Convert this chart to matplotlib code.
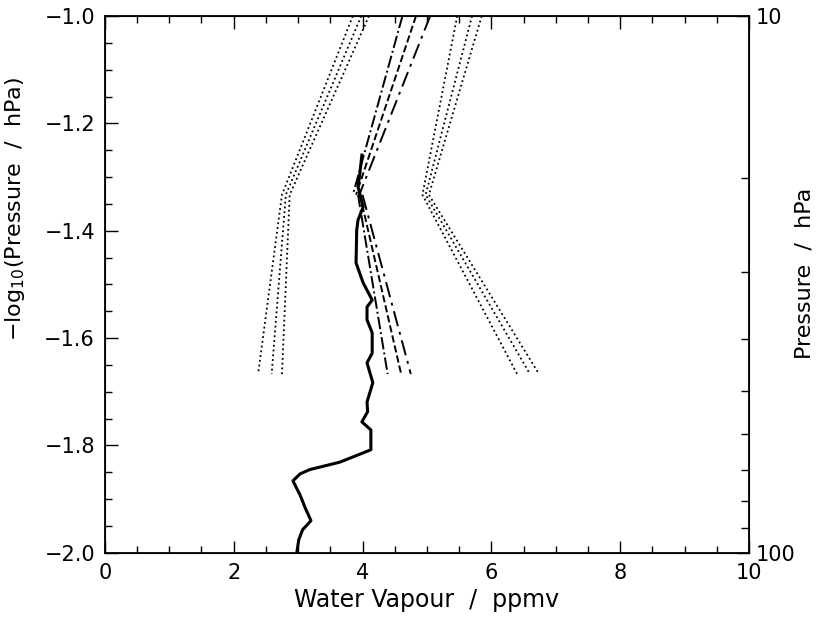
import numpy as np
import matplotlib
matplotlib.use("Agg")
import matplotlib.pyplot as plt
from matplotlib.ticker import MultipleLocator, FixedLocator, NullFormatter, FixedFormatter

# measured profile (solid)
wv_meas = [3.99, 3.96, 3.93, 4.01, 3.93, 3.91, 3.90, 4.01, 4.15, 4.07, 4.07, 4.15, 4.15,
           4.07, 4.16, 4.07, 4.08, 3.99, 4.13, 4.13, 3.65, 3.18, 3.03, 2.92, 3.03, 3.11,
           3.20, 3.07, 3.01, 2.98]
lp_meas = [-1.259, -1.292, -1.318, -1.356, -1.380, -1.399, -1.460, -1.497, -1.529, -1.542,
           -1.566, -1.590, -1.628, -1.646, -1.683, -1.719, -1.737, -1.756, -1.771, -1.808,
           -1.831, -1.845, -1.853, -1.866, -1.892, -1.916, -1.940, -1.957, -1.976, -2.000]

# dotted envelopes at three levels
levels = [-1.0, -1.333, -1.667]
env_low = [[3.85, 2.75, 2.38],
           [3.98, 2.81, 2.59],
           [4.10, 2.87, 2.75]]
env_high = [[5.47, 4.93, 6.40],
            [5.70, 4.98, 6.60],
            [5.85, 5.03, 6.74]]

# dashed layer fits, upper layer and lower layer
upper_lp = [-1.0, -1.333]
upper_fit = [[4.62, 3.85], [4.83, 3.90], [5.05, 3.95]]
lower_lp = [-1.333, -1.667]
lower_fit = [[3.93, 4.39], [3.96, 4.60], [4.00, 4.75]]
fit_styles = ['-.', '--', (0, (8, 3, 1.5, 3))]

plt.rcParams['font.family'] = 'DejaVu Sans'
plt.rcParams['font.size'] = 15

fig = plt.figure(figsize=(8.25, 6.17), dpi=100)
ax = fig.add_axes([0.127, 0.104, 0.781, 0.870])

for xs in env_low + env_high:
    ax.plot(xs, levels, color='black', linestyle=':', linewidth=1.3)

for xs, ls in zip(upper_fit, fit_styles):
    ax.plot(xs, upper_lp, color='black', linestyle=ls, linewidth=1.4)
for xs, ls in zip(lower_fit, fit_styles):
    ax.plot(xs, lower_lp, color='black', linestyle=ls, linewidth=1.4)

ax.plot(wv_meas, lp_meas, color='black', linewidth=2.2)

ax.set_xlim(0, 10)
ax.set_ylim(-2.0, -1.0)
ax.xaxis.set_major_locator(FixedLocator([0, 2, 4, 6, 8, 10]))
ax.xaxis.set_major_formatter(FixedFormatter(['0', '2', '4', '6', '8', '10']))
ax.xaxis.set_minor_locator(MultipleLocator(0.5))
ax.yaxis.set_major_locator(MultipleLocator(0.2))
ax.yaxis.set_minor_locator(MultipleLocator(0.05))
ax.yaxis.set_major_formatter(plt.FuncFormatter(lambda v, p: '\u2212%.1f' % abs(v)))
ax.tick_params(which='both', direction='in', top=True, right=False, width=1)
ax.tick_params(which='major', length=9, pad=7)
ax.tick_params(which='minor', length=5)
for s in ax.spines.values():
    s.set_linewidth(1.3)

ax.set_xlabel('Water Vapour  /  ppmv', fontsize=17, labelpad=4)
ax.set_ylabel('\u2212log$_{10}$(Pressure  /  hPa)', fontsize=16)
ax.yaxis.set_label_coords(-0.12, 0.64)

ax2 = ax.twinx()
ax2.set_yscale('log')
ax2.set_ylim(100, 10)
ax2.yaxis.set_major_locator(FixedLocator([10, 100]))
ax2.yaxis.set_major_formatter(FixedFormatter(['10', '100']))
ax2.yaxis.set_minor_locator(FixedLocator([20, 30, 40, 50, 60, 70, 80, 90]))
ax2.yaxis.set_minor_formatter(NullFormatter())
ax2.tick_params(which='both', direction='in', width=1)
ax2.tick_params(which='major', length=9, pad=5)
ax2.tick_params(which='minor', length=6)
ax2.set_ylabel('Pressure  /  hPa', fontsize=16)
ax2.yaxis.set_label_coords(1.07, 0.52)

fig.savefig('out.png', dpi=100)
